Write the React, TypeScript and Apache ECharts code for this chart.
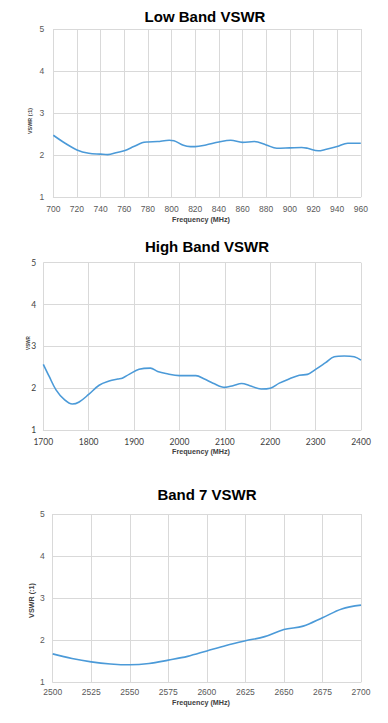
import React, { useEffect, useRef } from "react";
import * as echarts from "echarts";

const lowFreq = [700, 710, 720, 730, 740, 746, 754, 760, 768, 775, 780, 788, 798, 802, 810, 816, 820, 829, 840, 850, 860, 870, 880, 889, 900, 910, 915, 924, 930, 940, 949, 960];
const lowVswr = [2.47, 2.28, 2.12, 2.04, 2.02, 2.01, 2.06, 2.10, 2.20, 2.29, 2.31, 2.32, 2.35, 2.34, 2.23, 2.20, 2.20, 2.24, 2.31, 2.35, 2.30, 2.32, 2.24, 2.16, 2.17, 2.18, 2.16, 2.10, 2.13, 2.20, 2.28, 2.28];

const highFreq = [1700, 1713, 1728, 1746, 1764, 1779, 1800, 1823, 1845, 1864, 1874, 1889, 1911, 1936, 1952, 1970, 2000, 2036, 2055, 2074, 2100, 2118, 2137, 2155, 2180, 2200, 2220, 2239, 2264, 2282, 2300, 2322, 2341, 2363, 2385, 2400];
const highVswr = [2.57, 2.28, 1.96, 1.73, 1.62, 1.67, 1.85, 2.07, 2.17, 2.22, 2.24, 2.33, 2.45, 2.48, 2.40, 2.35, 2.30, 2.30, 2.22, 2.12, 2.02, 2.06, 2.11, 2.06, 1.98, 2.00, 2.12, 2.21, 2.31, 2.33, 2.45, 2.61, 2.75, 2.77, 2.75, 2.67];

const b7Freq = [2500, 2512.5, 2525, 2537.5, 2550, 2562.5, 2575, 2587.5, 2600, 2612.5, 2625, 2637.5, 2650, 2662.5, 2675, 2687.5, 2700];
const b7Vswr = [1.67, 1.56, 1.48, 1.43, 1.41, 1.44, 1.52, 1.61, 1.74, 1.87, 1.98, 2.08, 2.25, 2.33, 2.53, 2.74, 2.83];

const titles = ["Low Band VSWR", "High Band VSWR", "Band 7 VSWR"];
const yNames = ["VSWR (:1)", "VSWR", "VSWR (:1)"];
const xName = "Frequency (MHz)";
const xRanges = [
  [700, 960, 20],
  [1700, 2400, 100],
  [2500, 2700, 25],
];
const yRange = [1, 5, 1];

const FONT = "'Liberation Sans', Arial, sans-serif";
const FONT2 = "Lato, 'Liberation Sans', sans-serif";
const LINE = "#4b9ad8";
const GRID = "#d9d9d9";

export default function App() {
  const ref = useRef<HTMLDivElement>(null);
  useEffect(() => {
    if (!ref.current) return;
    const chart = echarts.init(ref.current, null, { renderer: "svg" });
    const grids = [
      { left: 53.3, top: 29, width: 307.5, height: 168 },
      { left: 43.3, top: 262.7, width: 317.7, height: 167.3 },
      { left: 52.7, top: 514, width: 308.3, height: 168 },
    ];
    const labelFonts = [FONT, FONT2, FONT];
    const labelColors = ["#595959", "#404040", "#595959"];
    const yMargins = [9, 7, 8];
    const xMargins = [7, 7.5, 5.5];
    const datas = [
      lowFreq.map((f, i) => [f, lowVswr[i]]),
      highFreq.map((f, i) => [f, highVswr[i]]),
      b7Freq.map((f, i) => [f, b7Vswr[i]]),
    ];
    const titleY = [16.5, 246.7, 494];
    const titleX = [205, 207, 207];
    const xNameY = [219, 451.5, 702];
    const yNamePos = [
      [29.5, 121, 5.4],
      [28, 343, 4.6],
      [31, 600.5, 7.2],
    ];
    const graphics: any[] = [];
    titles.forEach((t, i) => {
      graphics.push({
        type: "text",
        x: titleX[i],
        y: titleY[i],
        style: {
          text: t,
          fontFamily: FONT,
          fontWeight: "bold",
          fontSize: 15,
          fill: "#000",
          align: "center",
          verticalAlign: "middle",
        },
      });
      graphics.push({
        type: "text",
        x: 201,
        y: xNameY[i],
        style: {
          text: xName,
          fontFamily: FONT,
          fontWeight: "bold",
          fontSize: 7.2,
          fill: "#404040",
          align: "center",
          verticalAlign: "middle",
        },
      });
      graphics.push({
        type: "text",
        x: yNamePos[i][0],
        y: yNamePos[i][1],
        rotation: Math.PI / 2,
        style: {
          text: yNames[i],
          fontFamily: FONT,
          fontWeight: "bold",
          fontSize: yNamePos[i][2],
          fill: "#404040",
          align: "center",
          verticalAlign: "middle",
        },
      });
    });
    chart.setOption({
      animation: false,
      backgroundColor: "#fff",
      grid: grids,
      xAxis: xRanges.map((r, i) => ({
        type: "value",
        gridIndex: i,
        min: r[0],
        max: r[1],
        interval: r[2],
        axisLine: { show: true, lineStyle: { color: GRID, width: 1 } },
        axisTick: { show: false },
        splitLine: { show: true, lineStyle: { color: GRID, width: 1 } },
        axisLabel: {
          fontFamily: labelFonts[i],
          fontSize: 8.5,
          color: labelColors[i],
          margin: xMargins[i],
          showMinLabel: true,
          showMaxLabel: true,
          formatter: (v: number) => String(v),
        },
      })),
      yAxis: xRanges.map((_, i) => ({
        type: "value",
        gridIndex: i,
        min: yRange[0],
        max: yRange[1],
        interval: yRange[2],
        axisLine: { show: false },
        axisTick: { show: false },
        splitLine: { show: true, lineStyle: { color: GRID, width: 1 } },
        axisLabel: {
          fontFamily: labelFonts[i],
          fontSize: 8.5,
          color: labelColors[i],
          margin: yMargins[i],
          formatter: (v: number) => String(v),
        },
      })),
      series: datas.map((d, i) => ({
        type: "line",
        xAxisIndex: i,
        yAxisIndex: i,
        data: d,
        smooth: 0.35,
        showSymbol: false,
        lineStyle: { color: LINE, width: 1.6 },
      })),
      graphic: graphics,
    });
    return () => chart.dispose();
  }, []);
  return (
    <div
      ref={ref}
      style={{ position: "absolute", left: 0, top: 0, width: 388, height: 723 }}
    />
  );
}
